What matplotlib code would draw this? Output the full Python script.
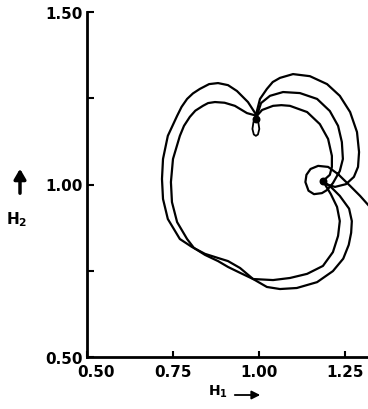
"""
Phase-plane trajectories of H2 against H1 with the cusp near (0.99, 1.20)
and the singular point at (1.19, 1.01).
"""

import matplotlib
matplotlib.use("Agg")
import matplotlib.pyplot as plt
from matplotlib.transforms import ScaledTranslation

# --- trajectory traces (H1, H2) ---
outer_h1 = [0.994, 0.968, 0.936, 0.910, 0.881, 0.855, 0.828, 0.808, 0.791, 0.775,
            0.762, 0.735, 0.721, 0.718, 0.721, 0.735, 0.770, 0.805, 0.843, 0.881,
            0.910, 0.945, 0.983, 1.023, 1.061, 1.110, 1.169, 1.215, 1.245, 1.261,
            1.268, 1.270, 1.262, 1.235, 1.209, 1.186]
outer_h2 = [1.199, 1.239, 1.271, 1.288, 1.294, 1.291, 1.277, 1.264, 1.248, 1.225,
            1.199, 1.141, 1.074, 1.016, 0.958, 0.900, 0.842, 0.819, 0.799, 0.787,
            0.778, 0.758, 0.726, 0.703, 0.697, 0.700, 0.717, 0.749, 0.785, 0.825,
            0.860, 0.894, 0.930, 0.967, 0.993, 1.010]

inner_h1 = [1.186, 1.206, 1.212, 1.212, 1.201, 1.177, 1.140, 1.090, 1.065, 1.041,
            1.009, 0.994, 0.965, 0.930, 0.900, 0.872, 0.852, 0.837, 0.815, 0.799,
            0.782, 0.770, 0.750, 0.744, 0.747, 0.762, 0.791, 0.811, 0.843, 0.881,
            0.910, 0.945, 0.983, 1.041, 1.090, 1.140, 1.186, 1.215, 1.230, 1.235,
            1.227, 1.209, 1.186]
inner_h2 = [1.010, 1.028, 1.051, 1.083, 1.132, 1.175, 1.210, 1.228, 1.230, 1.228,
            1.216, 1.199, 1.207, 1.228, 1.237, 1.239, 1.236, 1.228, 1.214, 1.196,
            1.170, 1.141, 1.074, 1.007, 0.949, 0.891, 0.842, 0.816, 0.796, 0.778,
            0.761, 0.744, 0.726, 0.723, 0.729, 0.741, 0.764, 0.804, 0.851, 0.894,
            0.935, 0.972, 1.010]

middle_h1 = [0.994, 1.006, 1.032, 1.070, 1.119, 1.169, 1.206, 1.230, 1.241, 1.244,
             1.235, 1.215, 1.198, 1.183, 1.160, 1.144, 1.135, 1.138, 1.150, 1.172,
             1.201, 1.230, 1.265, 1.294, 1.328]
middle_h2 = [1.199, 1.236, 1.257, 1.268, 1.265, 1.248, 1.213, 1.170, 1.123, 1.074,
             1.039, 1.004, 0.984, 0.975, 0.972, 0.982, 1.007, 1.028, 1.045, 1.054,
             1.051, 1.030, 0.996, 0.967, 0.929]

outermost_h1 = [0.991, 1.003, 1.023, 1.040, 1.061, 1.099, 1.148, 1.198, 1.235, 1.265,
                1.285, 1.291, 1.288, 1.276, 1.253, 1.221, 1.195]
outermost_h2 = [1.201, 1.248, 1.277, 1.297, 1.309, 1.320, 1.314, 1.291, 1.257, 1.210,
                1.152, 1.094, 1.051, 1.022, 1.001, 0.993, 1.001]

# small loop hanging below the cusp
loop_h1 = [0.991, 0.984, 0.981, 0.985, 0.991, 0.997, 1.001, 0.998, 0.991]
loop_h2 = [1.199, 1.181, 1.161, 1.145, 1.141, 1.145, 1.161, 1.181, 1.199]

# cusp and singular point
dots_h1 = [0.991, 1.186]
dots_h2 = [1.190, 1.010]

x_ticks = [0.50, 0.75, 1.00, 1.25]
x_labels = ["0.50", "0.75", "1.00", "1.25"]
y_ticks = [0.50, 0.75, 1.00, 1.25, 1.50]
y_labels = ["0.50", "", "1.00", "", "1.50"]

fig = plt.figure(figsize=(3.68, 4.10), dpi=100)
ax = fig.add_axes([87 / 368, 52 / 410, 281 / 368, 345 / 410])

line_kw = dict(color="black", lw=1.6, solid_capstyle="round", solid_joinstyle="round")
ax.plot(outer_h1, outer_h2, **line_kw)
ax.plot(inner_h1, inner_h2, **line_kw)
ax.plot(middle_h1, middle_h2, **line_kw)
ax.plot(outermost_h1, outermost_h2, **line_kw)
ax.plot(loop_h1, loop_h2, color="black", lw=1.3)
ax.scatter(dots_h1, dots_h2, s=22, color="black", zorder=3)

ax.set_xlim(0.50, 1.317)
ax.set_ylim(0.50, 1.50)

for side in ("top", "right"):
    ax.spines[side].set_visible(False)
for side in ("left", "bottom"):
    ax.spines[side].set_linewidth(2.0)

ax.set_xticks(x_ticks, x_labels)
ax.set_yticks(y_ticks, y_labels)
ax.tick_params(axis="x", direction="in", length=4, width=1.5, pad=5,
               labelsize=11)
ax.tick_params(axis="y", direction="in", length=5, width=1.5, pad=3,
               labelsize=11)
for lbl in ax.get_xticklabels() + ax.get_yticklabels():
    lbl.set_fontweight("bold")

# nudge the first x label clear of the 0.50 on the y axis
first = ax.get_xticklabels()[0]
first.set_transform(first.get_transform() + ScaledTranslation(0.09, 0, fig.dpi_scale_trans))

# axis names with arrows
fig.text(17 / 368, 190 / 410, r"$\mathbf{H_2}$", fontsize=11, ha="center", va="center")
ax.annotate("", xy=(20, 243), xytext=(20, 213), xycoords="figure pixels",
            textcoords="figure pixels",
            arrowprops=dict(arrowstyle="-|>,head_width=0.35,head_length=0.6",
                            color="black", lw=2.5))
fig.text(218 / 368, 18 / 410, r"$\mathbf{H_1}$", fontsize=10, ha="center", va="center")
ax.annotate("", xy=(263, 14), xytext=(232, 14), xycoords="figure pixels",
            textcoords="figure pixels",
            arrowprops=dict(arrowstyle="-|>,head_width=0.25,head_length=0.5",
                            color="black", lw=1.3))

fig.savefig("out.png", dpi=100)
